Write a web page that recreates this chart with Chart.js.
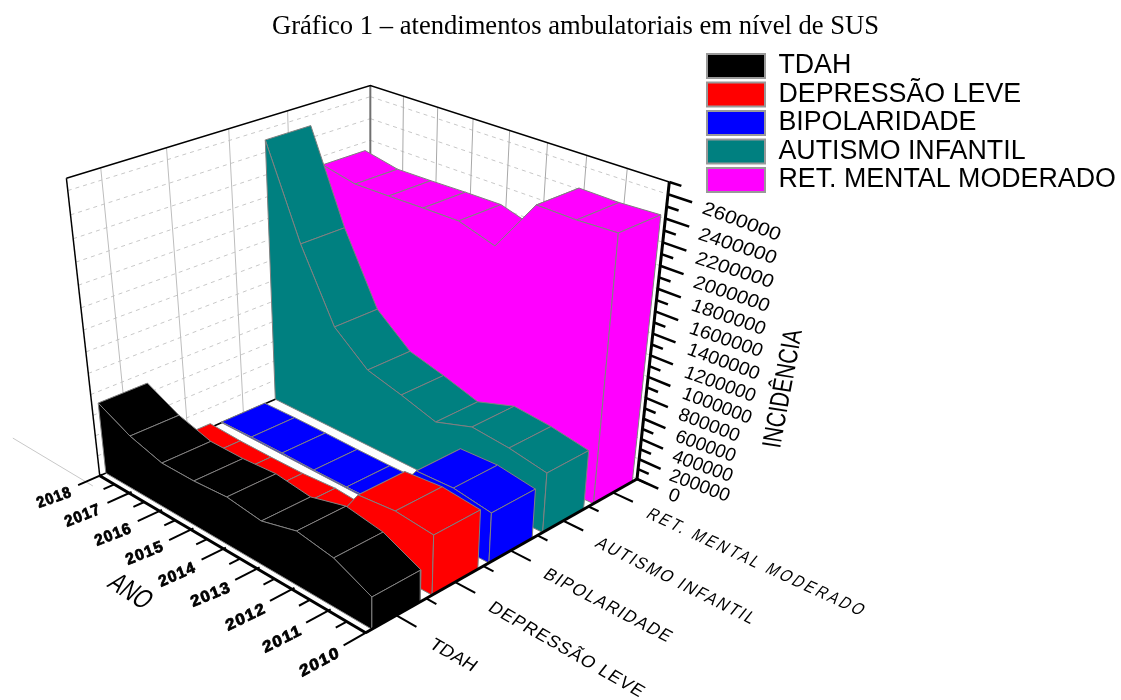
<!doctype html>
<html>
<head>
<meta charset="utf-8">
<title>Gráfico 1</title>
<script src="https://cdn.jsdelivr.net/npm/chart.js"></script>
<style>
  html, body { margin: 0; padding: 0; background: #fff; }
  canvas { display: block; }
</style>
</head>
<body>
<canvas id="grafico" width="1121" height="700"></canvas>
<script>
const anos = [2010, 2011, 2012, 2013, 2014, 2015, 2016, 2017, 2018];
const categorias = ['TDAH', 'DEPRESSÃO LEVE', 'BIPOLARIDADE', 'AUTISMO INFANTIL', 'RET. MENTAL MODERADO'];
const tdah = [302000, 462000, 519000, 426000, 470000, 445000, 444000, 537000, 695000];
const depressaoLeve = [564000, 599000, 567000, 30000, 55000, 30000, 25000, 25000, 40000];
const bipolaridade = [478000, 532000, 519000, 20000, 12000, 10000, 14000, 13000, 7000];
const autismoInfantil = [575000, 641000, 676000, 562000, 667000, 758000, 1031000, 1684000, 2508000];
const retMental = [2449000, 2435000, 2442000, 1970000, 2069000, 2066000, 2058000, 2054000, 2120000];
const ticksZ = [0, 200000, 400000, 600000, 800000, 1000000, 1200000, 1400000, 1600000, 1800000, 2000000, 2200000, 2400000, 2600000];
const seriesValores = [tdah, depressaoLeve, bipolaridade, autismoInfantil, retMental];
const cores = ['#000000', '#ff0000', '#0000ff', '#008080', '#ff00ff'];

const Z_MAX = 2700000;
const TOPO = 42;

// box coordinates (0..1) against their place on the canvas, fitted to a pinhole camera
const ancoras = [
  [1,0,0,100,475],[0,0,0,368,633],[0,1,0,636,478],[1,1,0,372,358],
  [1,0,1,67,178],[0,1,1,670,181],[1,1,1,370,85],
  [0,1,1400000/Z_MAX,653,337],[0,1,2600000/Z_MAX,668,197],
  [7/8,1,1,403,96],[6/8,1,1,437,107],[5/8,1,1,473,118],[4/8,1,1,509,130],[3/8,1,1,547,142],[2/8,1,1,587,155],[1/8,1,1,627,167],
  [1,.1,1,101,168],[1,.3,1,167,148],[1,.5,1,229,129],[1,.7,1,288,112],
  [0,.1,0,395,615],[0,.3,0,457,582],[0,.5,0,512,550],[0,.7,0,563,520],[0,.9,0,613,493],
  [7/8,0,0,128,493],[6/8,0,0,160,513],[5/8,0,0,191,530],[4/8,0,0,222,549],[3/8,0,0,255,568],[2/8,0,0,292,588],[1/8,0,0,328,611]
];

function ajustarCamera(pts) {
  const n = 11;
  const A = Array.from({ length: n }, () => new Array(n + 1).fill(0));
  const soma = (l, b) => {
    for (let i = 0; i < n; i++) {
      for (let j = 0; j < n; j++) A[i][j] += l[i] * l[j];
      A[i][n] += l[i] * b;
    }
  };
  pts.forEach(([X, Y, Z, px, py]) => {
    const u = px / 1000, v = py / 1000;
    soma([X, Y, Z, 1, 0, 0, 0, 0, -u * X, -u * Y, -u * Z], u);
    soma([0, 0, 0, 0, X, Y, Z, 1, -v * X, -v * Y, -v * Z], v);
  });
  for (let c = 0; c < n; c++) {
    let p = c;
    for (let r = c + 1; r < n; r++) if (Math.abs(A[r][c]) > Math.abs(A[p][c])) p = r;
    [A[c], A[p]] = [A[p], A[c]];
    for (let r = 0; r < n; r++) {
      if (r === c) continue;
      const f = A[r][c] / A[c][c];
      for (let k = c; k <= n; k++) A[r][k] -= f * A[c][k];
    }
  }
  return A.map((l, i) => l[n] / l[i]);
}
const cam = ajustarCamera(ancoras);

function projetar(X, Y, Z) {
  const w = cam[8] * X + cam[9] * Y + cam[10] * Z + 1;
  return {
    x: 1000 * (cam[0] * X + cam[1] * Y + cam[2] * Z + cam[3]) / w,
    y: 1000 * (cam[4] * X + cam[5] * Y + cam[6] * Z + cam[7]) / w
  };
}
const fracAno = a => (a - anos[0]) / (anos[anos.length - 1] - anos[0]);
const fracSerie = s => (s - 0.5) / categorias.length;
const fracZ = v => v / Z_MAX;

const datasets = [];
function addLinha(pontos, cor, largura, traco) {
  datasets.push({
    data: pontos, showLine: true, fill: false, borderColor: cor, borderWidth: largura,
    borderDash: traco || [], pointRadius: 0, tension: 0, clip: false, order: -datasets.length
  });
}
function addFace(pontos, cor) {
  datasets.push({
    data: [...pontos, pontos[0]], showLine: true, fill: 'shape', backgroundColor: cor, borderColor: '#808080',
    borderWidth: 1, pointRadius: 0, tension: 0, clip: false, order: -datasets.length
  });
}

// back walls
ticksZ.forEach(v => {
  const z = fracZ(v);
  addLinha([projetar(1, 0, z), projetar(1, 1, z)], '#c8c8c8', 1, [4, 4]);
  addLinha([projetar(1, 1, z), projetar(0, 1, z)], '#c8c8c8', 1, [4, 4]);
});
[1, 2, 3, 4].forEach(s => addLinha([projetar(1, fracSerie(s), 0), projetar(1, fracSerie(s), 1)], '#bdbdbd', 1));
anos.slice(1, -1).forEach(a => addLinha([projetar(fracAno(a), 1, 0), projetar(fracAno(a), 1, 1)], '#a8a8a8', 1));
addLinha([projetar(1, 1, 0), projetar(1, 1, 1)], '#707070', 2);
addLinha([projetar(1, 0, 1), projetar(1, 1, 1), projetar(0, 1, 1)], '#000', 1.5);
addLinha([projetar(1, 0, 0), projetar(1, 0, 1)], '#000', 1.5);
addLinha([projetar(1, 0, 0), projetar(1, 1, 0)], '#000', 1.5);
addLinha([projetar(1.33, -0.045, 0), projetar(0.97, -0.045, 0)], '#c8c8c8', 1);

// one walled ribbon per category, drawn from the far one to the near one
const MEIA_LARGURA = 0.4;
for (let i = categorias.length - 1; i >= 0; i--) {
  const vals = seriesValores[i];
  const y0 = fracSerie(i + 1 - MEIA_LARGURA), y1 = fracSerie(i + 1 + MEIA_LARGURA);
  for (let k = anos.length - 1; k > 0; k--) {
    const xa = fracAno(anos[k]), xb = fracAno(anos[k - 1]);
    addFace([
      projetar(xa, y0, fracZ(vals[k])), projetar(xa, y1, fracZ(vals[k])),
      projetar(xb, y1, fracZ(vals[k - 1])), projetar(xb, y0, fracZ(vals[k - 1]))
    ], cores[i]);
  }
  const frente = anos.map((a, k) => projetar(fracAno(a), y0, fracZ(vals[k])));
  addFace([projetar(0, y0, 0), ...frente, projetar(1, y0, 0)], cores[i]);
  addFace([
    projetar(0, y0, 0), projetar(0, y0, fracZ(vals[0])), projetar(0, y1, fracZ(vals[0])), projetar(0, y1, 0)
  ], cores[i]);
}

// axes and ticks
const eixos = [[[1, 0, 0], [0, 0, 0]], [[0, 0, 0], [0, 1, 0]], [[0, 1, 0], [0, 1, 1]]];
eixos.forEach(([a, b]) => addLinha([projetar(...a), projetar(...b)], '#000', 3));
ticksZ.forEach(v => {
  addLinha([projetar(0, 1, fracZ(v)), projetar(-0.07, 1, fracZ(v))], '#000', 2.5);
  addLinha([projetar(0, 1, fracZ(v + 100000)), projetar(-0.035, 1, fracZ(v + 100000))], '#000', 2.5);
});
anos.forEach(a => {
  addLinha([projetar(fracAno(a), 0.008, 0), projetar(fracAno(a), -0.07, 0)], '#000', 2);
  if (a < 2018) addLinha([projetar(fracAno(a + 0.5), 0, 0), projetar(fracAno(a + 0.5), -0.035, 0)], '#000', 2);
});
categorias.forEach((c, i) => {
  addLinha([projetar(0, fracSerie(i + 1), 0), projetar(-0.065, fracSerie(i + 1), 0)], '#000', 2);
  addLinha([projetar(0, fracSerie(i + 1.5), 0), projetar(-0.033, fracSerie(i + 1.5), 0)], '#000', 2);
});

// text laid along a baseline with its own up vector, so it sits on the slanted planes
function textoInclinado(ctx, texto, fonte, tam, ini, fim, cima, espaco, reforco) {
  ctx.save();
  ctx.font = fonte;
  ctx.letterSpacing = (espaco || 0) + 'px';
  ctx.textAlign = 'left';
  ctx.textBaseline = 'alphabetic';
  ctx.fillStyle = '#000';
  const w = ctx.measureText(texto).width;
  const cap = tam * 0.716;
  ctx.setTransform((fim[0] - ini[0]) / w, (fim[1] - ini[1]) / w, -cima[0] / cap, -cima[1] / cap, ini[0], ini[1]);
  ctx.fillText(texto, 0, 0);
  if (reforco) {
    ctx.strokeStyle = '#000';
    ctx.lineWidth = reforco;
    ctx.strokeText(texto, 0, 0);
  }
  ctx.restore();
}

const rotulosAno = [
  [[302,677],[341,656]],[[265,653],[303,634]],[[228,631],[267,612]],[[193,607],[232,591]],[[161,587],[197,571]],
  [[128,565],[165,550]],[[97,546],[133,532]],[[67,527],[102,513]],[[39,508],[73,496]]
];
const rotulosSerie = [
  [[428,647],[472,672],0],[[487,610],[640,698],1],[[542,577],[668,643],1.5],[[594,546],[752,625],2],[[645,517],[862,617],3]
];
const rotulosZ = [
  [[667,499],[677,503]],[[668,480],[727,502]],[[671,461],[730,482]],[[674,441],[733,462]],[[677,419],[737,442]],
  [[681,398],[749,424]],[[683,377],[753,402]],[[686,354],[757,380]],[[688,333],[760,357]],[[690,310],[763,335]],
  [[692,287],[767,312]],[[694,263],[771,288]],[[697,239],[774,264]],[[701,213],[778,241]]
];
const SANS = '"Liberation Sans", Arial, sans-serif';

const textos = {
  id: 'textos',
  afterLayout(chart) {
    chart.titleBlock.left = 30;
    const l = chart.legend;
    l.left = 705.3; l.top = 50.9; l.right = 1121; l.bottom = 700;
  },
  afterDraw(chart) {
    const ctx = chart.ctx;
    anos.forEach((a, i) => textoInclinado(ctx, String(a), 'bold 14px ' + SANS, 14, rotulosAno[i][0], rotulosAno[i][1], [-4, -10.5], 1, 0.7));
    categorias.forEach((c, i) => {
      const r = rotulosSerie[i];
      textoInclinado(ctx, c, '16px ' + SANS, 16, r[0], r[1], [8, -10], r[2]);
    });
    ticksZ.forEach((v, i) => textoInclinado(ctx, String(v), '18px ' + SANS, 18, rotulosZ[i][0], rotulosZ[i][1], [5, -12.5]));
    textoInclinado(ctx, 'INCIDÊNCIA', '26px ' + SANS, 26, [780, 449], [802, 331], [-19, -3]);
    textoInclinado(ctx, 'ANO', '26px ' + SANS, 26, [106, 586], [143, 610], [14, -15]);
  }
};

new Chart(document.getElementById('grafico'), {
  type: 'scatter',
  data: { datasets },
  plugins: [textos],
  options: {
    responsive: false,
    animation: false,
    events: [],
    layout: { padding: 0 },
    scales: {
      x: { type: 'linear', display: false, min: 0, max: 1121 },
      y: { type: 'linear', display: false, min: TOPO, max: 700, reverse: true }
    },
    plugins: {
      tooltip: { enabled: false },
      title: {
        display: true,
        text: 'Gráfico 1 – atendimentos ambulatoriais em nível de SUS',
        color: '#000',
        padding: { top: 12, bottom: 0 },
        font: { family: '"Liberation Serif", "Times New Roman", serif', size: 26.6, weight: 'normal', lineHeight: '30px' }
      },
      legend: {
        position: 'chartArea',
        align: 'start',
        labels: {
          boxWidth: 58, boxHeight: 24, padding: 1.7, color: '#000',
          font: { family: SANS, size: 26.8 },
          generateLabels: () => categorias.map((c, i) => ({
            text: c, fillStyle: cores[i], strokeStyle: '#999', lineWidth: 2, hidden: false, datasetIndex: 0
          }))
        }
      }
    }
  }
});
</script>
</body>
</html>
